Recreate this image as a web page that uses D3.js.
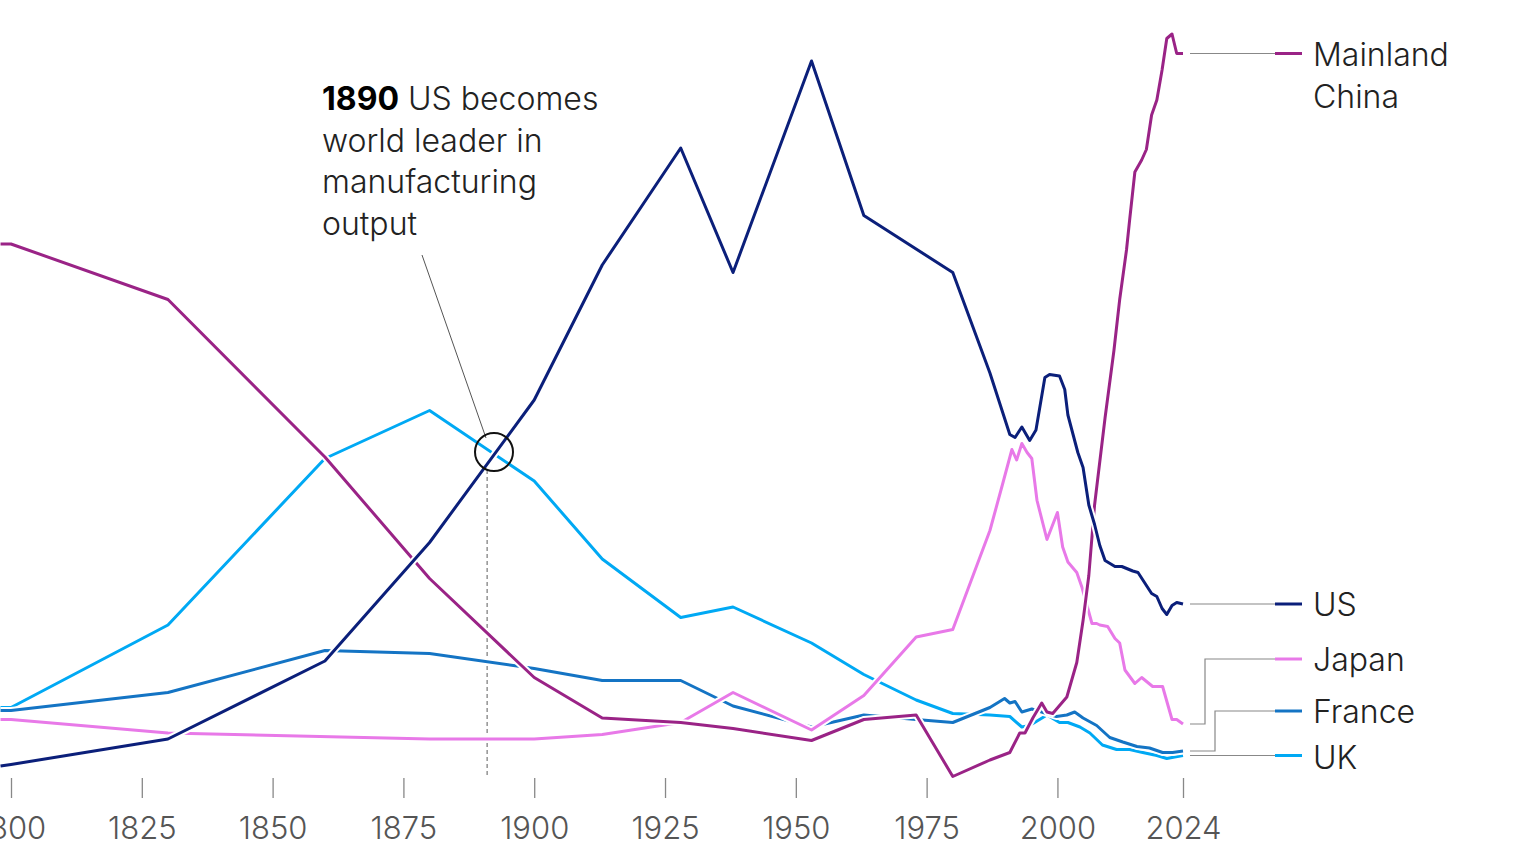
<!DOCTYPE html>
<html><head><meta charset="utf-8">
<script src="https://cdn.jsdelivr.net/npm/d3@7"></script>
<style>body{margin:0;background:#fff;overflow:hidden}svg{display:block;font-family:Inter,"Noto Sans",sans-serif}</style>
</head><body><svg id="c" width="1536" height="864"></svg>
<script>
const seriesNames=["UK","France","Japan","Mainland China","US"];
const colors={"US":"#0b1f7a","Mainland China":"#9a2386","Japan":"#e879e8","France":"#1474c4","UK":"#00a9f4"};
const usData=[[1798,1.6],[1800,1.7],[1830,3.4],[1860,8.6],[1880,16.5],[1900,26],[1913,35],[1928,42.8],[1938,34.5],[1953,48.6],[1963,38.3],[1980,34.5],[1987.1,27.8],[1990.9,23.7],[1991.9,23.5],[1993.2,24.2],[1994.7,23.3],[1995.9,24.0],[1997.6,27.5],[1998.5,27.7],[2000.4,27.6],[2001.4,26.7],[2002,25.0],[2003.9,22.5],[2004.9,21.5],[2006,19.0],[2007.1,17.7],[2008.1,16.3],[2009.1,15.3],[2011,14.9],[2012.3,14.9],[2014.4,14.6],[2015.4,14.5],[2016.7,13.8],[2018,13.1],[2019,12.9],[2020,12.1],[2020.9,11.7],[2021.9,12.3],[2022.8,12.5],[2024,12.4]];
const chinaData=[[1798,36.4],[1800,36.4],[1830,32.7],[1860,22.2],[1880,14.1],[1900,7.5],[1913,4.8],[1928,4.5],[1938,4.1],[1953,3.3],[1963,4.7],[1973,5.0],[1980,0.9],[1987.1,2.0],[1990.9,2.5],[1992.8,3.8],[1993.8,3.8],[1995.3,4.8],[1997,5.8],[1998,5.2],[1999.1,5.1],[2001.8,6.2],[2003.7,8.5],[2004.9,11.3],[2006,14.3],[2007.1,19.0],[2009.1,24.8],[2010.8,29.3],[2011.9,32.7],[2013.2,36.0],[2013.8,38.0],[2014.8,41.2],[2016.1,42.0],[2017,42.7],[2018,45.0],[2019,46.0],[2020,48.0],[2020.9,50.1],[2021.9,50.4],[2022.8,49.1],[2024,49.1]];
const japanData=[[1798,4.7],[1800,4.7],[1830,3.8],[1880,3.4],[1900,3.4],[1913,3.7],[1928,4.5],[1938,6.5],[1953,4.0],[1963,6.3],[1973,10.2],[1980,10.7],[1987.1,17.3],[1989.6,20.5],[1991.3,22.7],[1992.2,22.0],[1993.2,23.1],[1994.2,22.5],[1995.1,22.1],[1996.1,19.3],[1998,16.7],[2000,18.5],[2001,16.2],[2002,15.2],[2003.7,14.5],[2004.7,13.5],[2006.6,11.1],[2007.5,11.1],[2008.1,11.0],[2009.6,10.9],[2011,10.1],[2011.9,9.8],[2012.9,8.0],[2014.8,7.1],[2016.1,7.5],[2018.2,6.9],[2020.1,6.9],[2021.9,4.7],[2022.8,4.7],[2024,4.4]];
const franceData=[[1798,5.3],[1800,5.3],[1830,6.5],[1860,9.3],[1880,9.1],[1900,8.1],[1913,7.3],[1928,7.3],[1938,5.6],[1953,4.2],[1963,5.0],[1973,4.7],[1980,4.5],[1987.1,5.5],[1989.9,6.1],[1990.9,5.8],[1991.9,5.9],[1993.2,5.2],[1995.1,5.4],[1999.8,4.9],[2001.8,5.0],[2003.3,5.2],[2004.9,4.8],[2007.5,4.3],[2010,3.5],[2012.5,3.2],[2015.2,2.9],[2017.6,2.8],[2020.1,2.5],[2022,2.5],[2024,2.6]];
const ukData=[[1798,5.5],[1800,5.5],[1830,11.0],[1860,22.1],[1880,25.3],[1900,20.6],[1913,15.4],[1928,11.5],[1938,12.2],[1953,9.8],[1963,7.7],[1973,6.0],[1980,5.1],[1987.1,5.0],[1990.9,4.9],[1993.2,4.2],[1994.7,4.3],[1998,5.0],[2000.4,4.5],[2002,4.5],[2004.3,4.2],[2006.2,3.8],[2008.6,3.0],[2011.3,2.7],[2013.8,2.7],[2016.3,2.5],[2019,2.3],[2020.9,2.1],[2022.4,2.2],[2024,2.3]];
const dataByName={"US":usData,"Mainland China":chinaData,"Japan":japanData,"France":franceData,"UK":ukData};
const tickYears=[1800,1825,1850,1875,1900,1925,1950,1975,2000,2024];
const guideYear=1891;
const annotationLines=[["1890"," US becomes"],["","world leader in"],["","manufacturing"],["","output"]];

const svg=d3.select("#c");
const x=d3.scaleLinear().domain([1800,2024]).range([11,1183]);
const y=d3.scaleLinear().domain([0,50]).range([790,40]);
const line=d3.line().x(d=>x(d[0])).y(d=>y(d[1]));

svg.append("line").attr("x1",x(guideYear)).attr("x2",x(guideYear)).attr("y1",470).attr("y2",778)
 .attr("stroke","#777").attr("stroke-width",1.2).attr("stroke-dasharray","4,3");

seriesNames.forEach(n=>{
  svg.append("path").datum(dataByName[n]).attr("d",line).attr("fill","none").attr("stroke","#fff").attr("stroke-width",7).attr("stroke-linejoin","round");
  svg.append("path").datum(dataByName[n]).attr("d",line).attr("fill","none").attr("stroke",colors[n]).attr("stroke-width",3).attr("stroke-linejoin","round");
});

const ax=svg.append("g").attr("transform","translate(0,778)");
ax.call(d3.axisBottom(x).tickValues(tickYears).tickSize(20).tickFormat(d3.format("d")));
ax.select(".domain").remove();
ax.selectAll(".tick line").attr("stroke","#888").attr("stroke-width",1.3);
ax.selectAll(".tick text").attr("y",61).attr("dy",0).attr("font-size",31).attr("fill","#555").attr("font-family","Inter,sans-serif").attr("font-weight",300);

const at=svg.append("text").attr("font-size",32).attr("fill","#222").attr("font-family","Inter,sans-serif");
annotationLines.forEach((l,i)=>{
  const t=at.append("tspan").attr("x",322).attr("y",110+i*41.5);
  if(l[0]) t.append("tspan").attr("font-weight",700).attr("fill","#000").text(l[0]);
  t.append("tspan").attr("font-weight",300).text(l[1]);
});
svg.append("line").attr("x1",422).attr("y1",255).attr("x2",486).attr("y2",438).attr("stroke","#555").attr("stroke-width",1);
svg.append("circle").attr("cx",494).attr("cy",452).attr("r",19).attr("fill","none").attr("stroke","#111").attr("stroke-width",2);

const legendY={"Mainland China":54,"US":604,"Japan":659,"France":711,"UK":757};
const legendBend={"Japan":1205,"France":1215};
seriesNames.forEach(n=>{
  const d=dataByName[n], last=d[d.length-1];
  const y0=y(last[1]), y1=legendY[n];
  const pts=legendBend[n]?[[1190,y0],[legendBend[n],y0],[legendBend[n],y1],[1275,y1]]:[[1190,y0],[1275,y0]];
  svg.append("path").attr("d",d3.line()(pts)).attr("fill","none").attr("stroke","#888").attr("stroke-width",1.2);
  const ly=pts[pts.length-1][1];
  svg.append("line").attr("x1",1275).attr("x2",1302).attr("y1",ly).attr("y2",ly).attr("stroke",colors[n]).attr("stroke-width",3);
  const tx=svg.append("text").attr("x",1313).attr("font-size",32).attr("fill","#222").attr("font-weight",300).attr("font-family","Inter,sans-serif");
  if(n==="Mainland China"){
    tx.append("tspan").attr("x",1313).attr("y",66).text("Mainland");
    tx.append("tspan").attr("x",1313).attr("y",108).text("China");
  } else tx.attr("y",y1+12).text(n);
});
</script></body></html>
